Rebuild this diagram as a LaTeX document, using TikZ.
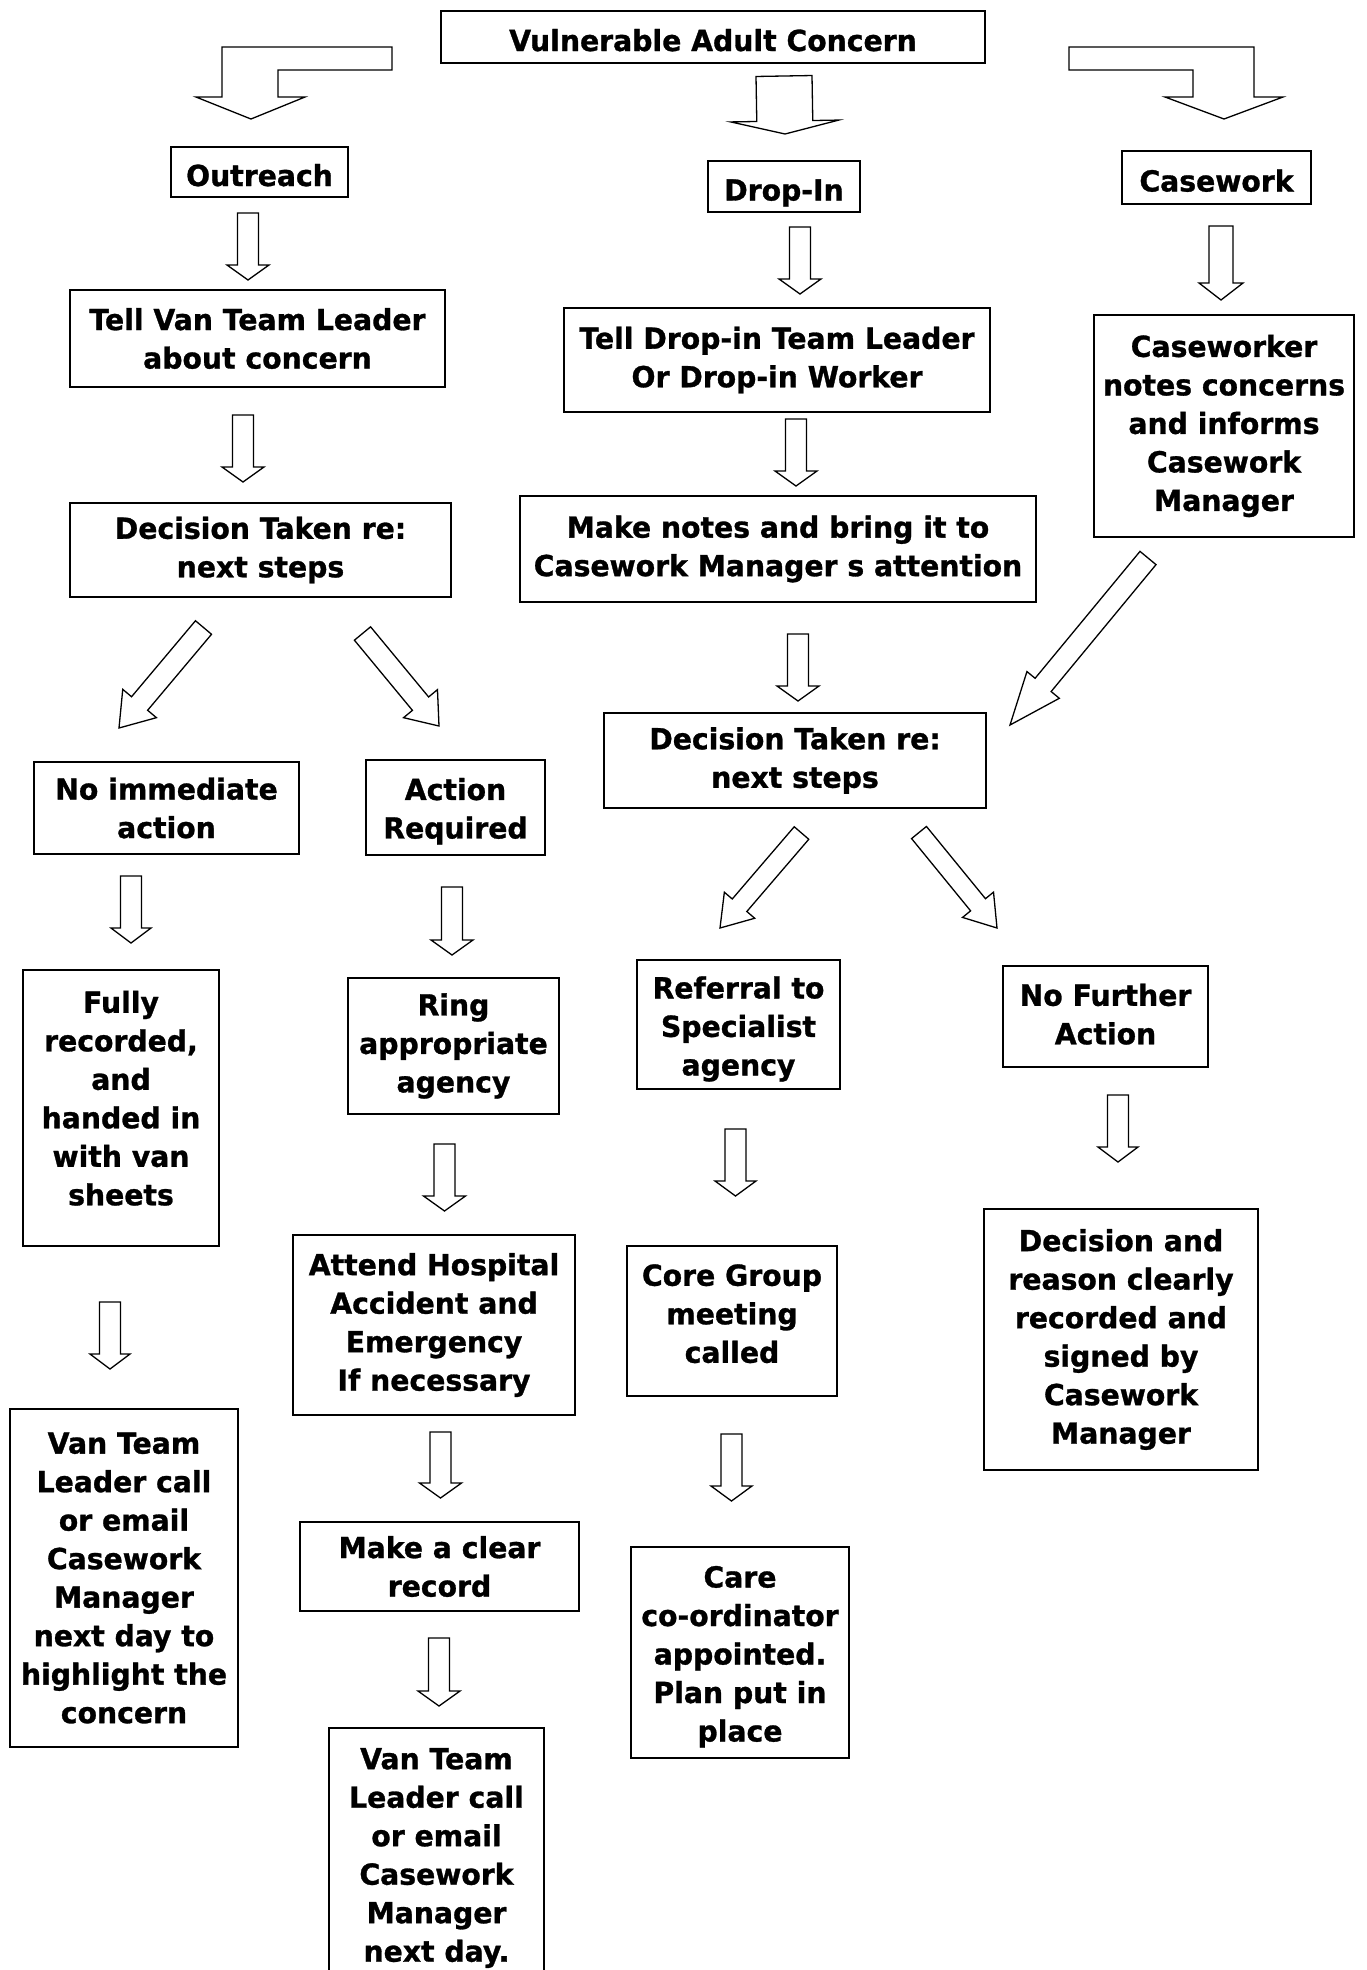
\documentclass[tikz,border=0pt]{standalone}
\usepackage{fontspec}
\setmainfont{DejaVu Sans}[FakeStretch=0.975,FakeBold=1]
\usetikzlibrary{calc}
\tikzset{
  box/.style={draw,line width=2pt,align=center,inner sep=0pt,
    font=\fontsize{29}{38.5}\selectfont\bfseries},
  single/.style={text height=34pt,text depth=6pt},
  fat/.style={draw,line width=1.3pt,fill=white,line join=miter},
}
% outlined block arrow: shaft half width, head half width, head length, from, to
\newcommand{\fatarrow}[5]{%
  \path #4 coordinate (fa-a) #5 coordinate (fa-b);
  \path ($(fa-b)!#3!(fa-a)$) coordinate (fa-h);
  \draw[fat] ($(fa-a)!#1!90:(fa-b)$) -- ($(fa-h)!#1!-90:(fa-a)$)
    -- ($(fa-h)!#2!-90:(fa-a)$) -- (fa-b) -- ($(fa-h)!#2!90:(fa-a)$)
    -- ($(fa-h)!#1!90:(fa-a)$) -- ($(fa-a)!#1!-90:(fa-b)$) -- cycle;
}
\begin{document}
\begin{tikzpicture}[x=1pt,y=1pt]
  \fill[white] (0,0) rectangle (1366,-1970);
  \useasboundingbox (0,0) rectangle (1366,-1970);

  % top
  \node[box,single,minimum width=544pt,minimum height=52pt] (vac) at (713,-37) {Vulnerable Adult Concern};
  \node[box,single,minimum width=177pt,minimum height=50pt] (outreach) at (259.5,-172) {Outreach};
  \node[box,single,minimum width=152pt,minimum height=51pt] (dropin) at (784,-186.5) {Drop-In};
  \node[box,single,minimum width=189pt,minimum height=53pt] (casework) at (1216.5,-177.5) {Casework};

  % outreach column
  \node[box,minimum width=375pt,minimum height=97pt] (tellvan) at (257.5,-338.5) {Tell Van Team Leader\\about concern};
  \node[box,minimum width=381pt,minimum height=94pt] (dec1) at (260.5,-550) {Decision Taken re:\\next steps};
  \node[box,minimum width=265pt,minimum height=92pt] (noimm) at (166.5,-808) {No immediate\\action};
  \node[box,minimum width=179pt,minimum height=95pt,text height=68pt] (actreq) at (455.5,-807.5) {Action\\Required};
  \node[box,minimum width=196pt,minimum height=276pt,text depth=20pt] (fully) at (121,-1108) {Fully\\recorded,\\and\\handed in\\with van\\sheets};
  \node[box,minimum width=211pt,minimum height=136pt] (ring) at (453.5,-1046) {Ring\\appropriate\\agency};
  \node[box,minimum width=282pt,minimum height=180pt] (attend) at (434,-1325) {Attend Hospital\\Accident and\\Emergency\\If necessary};
  \node[box,minimum width=228pt,minimum height=338pt] (vanteam1) at (124,-1578) {Van Team\\Leader call\\or email\\Casework\\Manager\\next day to\\highlight the\\concern};
  \node[box,minimum width=279pt,minimum height=89pt] (makeclear) at (439.5,-1566.5) {Make a clear\\record};
  \node[box,minimum width=215pt,minimum height=260pt] (vanteam2) at (436.5,-1858) {Van Team\\Leader call\\or email\\Casework\\Manager\\next day.};

  % drop-in and casework columns
  \node[box,minimum width=426pt,minimum height=104pt] (telldrop) at (777,-360) {Tell Drop-in Team Leader\\Or Drop-in Worker};
  \node[box,minimum width=516pt,minimum height=106pt] (makenotes) at (778,-549) {Make notes and bring it to\\Casework Manager s attention};
  \node[box,minimum width=260pt,minimum height=222pt] (caseworker) at (1224,-426) {Caseworker\\notes concerns\\and informs\\Casework\\Manager};
  \node[box,minimum width=382pt,minimum height=95pt] (dec2) at (795,-760.5) {Decision Taken re:\\next steps};
  \node[box,minimum width=203pt,minimum height=129pt,text height=108pt] (referral) at (738.5,-1024.5) {Referral to\\Specialist\\agency};
  \node[box,minimum width=205pt,minimum height=101pt,text depth=5pt] (nofurther) at (1105.5,-1016.5) {No Further\\Action};
  \node[box,minimum width=210pt,minimum height=150pt,text depth=15pt] (core) at (732,-1321) {Core Group\\meeting\\called};
  \node[box,minimum width=274pt,minimum height=261pt] (decision) at (1121,-1339.5) {Decision and\\reason clearly\\recorded and\\signed by\\Casework\\Manager};
  \node[box,minimum width=218pt,minimum height=211pt,text height=184pt] (care) at (740,-1652.5) {Care\\co-ordinator\\appointed.\\Plan put in\\place};

  % bent arrows from the concern
  \draw[fat] ([xshift=-48pt,yshift=-10pt]vac.west) -- ++(-170,0) -- ++(0,-50) -- ++(-26,0)
    -- ++(55,-22) -- ++(54,22) -- ++(-27,0) -- ++(0,27) -- ++(114,0) -- cycle;
  \draw[fat] ([xshift=83pt,yshift=-10pt]vac.east) -- ++(185,0) -- ++(0,-50) -- ++(29,0)
    -- ++(-59,-22) -- ++(-59,22) -- ++(28,0) -- ++(0,27) -- ++(-124,0) -- cycle;
  \fatarrow{28pt}{54pt}{13pt}{([xshift=71pt,yshift=-12pt]vac.south)}{([xshift=1pt,yshift=26pt]dropin.north)}

  % straight down arrows
  \fatarrow{10.5pt}{21pt}{15pt}{([xshift=-11.5pt,yshift=-15pt]outreach.south)}{([xshift=-9.5pt,yshift=9pt]tellvan.north)}
  \fatarrow{10.5pt}{21pt}{15pt}{([xshift=-14.5pt,yshift=-27pt]tellvan.south)}{([xshift=-17.5pt,yshift=20pt]dec1.north)}
  \fatarrow{10.5pt}{21pt}{15pt}{([xshift=16pt,yshift=-14pt]dropin.south)}{([xshift=23pt,yshift=13pt]telldrop.north)}
  \fatarrow{10.5pt}{21pt}{15pt}{([xshift=19pt,yshift=-6pt]telldrop.south)}{([xshift=18pt,yshift=9pt]makenotes.north)}
  \fatarrow{12pt}{22pt}{17pt}{([xshift=4.5pt,yshift=-21pt]casework.south)}{([xshift=-3pt,yshift=14pt]caseworker.north)}
  \fatarrow{10.5pt}{21pt}{15pt}{([xshift=20pt,yshift=-31pt]makenotes.south)}{([xshift=3pt,yshift=11pt]dec2.north)}
  \fatarrow{10.5pt}{20pt}{15pt}{([xshift=-35.5pt,yshift=-21pt]noimm.south)}{([xshift=10pt,yshift=26pt]fully.north)}
  \fatarrow{10.5pt}{20pt}{15pt}{([xshift=-11pt,yshift=-55pt]fully.south)}{([xshift=-14pt,yshift=39pt]vanteam1.north)}
  \fatarrow{10.5pt}{21pt}{15pt}{([xshift=-3.5pt,yshift=-31pt]actreq.south)}{([xshift=-1.5pt,yshift=22pt]ring.north)}
  \fatarrow{10.5pt}{21pt}{15pt}{([xshift=-9pt,yshift=-29pt]ring.south)}{([xshift=10.5pt,yshift=23pt]attend.north)}
  \fatarrow{10.5pt}{21pt}{15pt}{([xshift=6.5pt,yshift=-16pt]attend.south)}{([xshift=1pt,yshift=23pt]makeclear.north)}
  \fatarrow{10.5pt}{21pt}{15pt}{([xshift=-0.5pt,yshift=-26pt]makeclear.south)}{([xshift=2.5pt,yshift=21pt]vanteam2.north)}
  \fatarrow{10.5pt}{20.5pt}{15pt}{([xshift=-3pt,yshift=-39pt]referral.south)}{([xshift=3.5pt,yshift=49pt]core.north)}
  \fatarrow{10.5pt}{20.5pt}{15pt}{([xshift=-0.5pt,yshift=-37pt]core.south)}{([xshift=-8.5pt,yshift=45pt]care.north)}
  \fatarrow{10.5pt}{20pt}{15pt}{([xshift=12.5pt,yshift=-27pt]nofurther.south)}{([xshift=-3pt,yshift=46pt]decision.north)}

  % slanted arrows
  \fatarrow{10.5pt}{22pt}{32pt}{([xshift=-57pt,yshift=-29.5pt]dec1.south)}{([xshift=-47.5pt,yshift=33pt]noimm.north)}
  \fatarrow{10.5pt}{22pt}{29pt}{([xshift=102pt,yshift=-35.5pt]dec1.south)}{([xshift=-16.5pt,yshift=33pt]actreq.north)}
  \fatarrow{10.4pt}{21pt}{52pt}{([xshift=-76pt,yshift=-20pt]caseworker.south)}{([xshift=23pt,yshift=-13pt]dec2.north east)}
  \fatarrow{9.6pt}{20pt}{30pt}{([xshift=6.5pt,yshift=-24pt]dec2.south)}{([xshift=-18.5pt,yshift=31pt]referral.north)}
  \fatarrow{9.6pt}{20pt}{30pt}{([xshift=124pt,yshift=-23.5pt]dec2.south)}{([xshift=-108.5pt,yshift=37pt]nofurther.north)}
\end{tikzpicture}
\end{document}
